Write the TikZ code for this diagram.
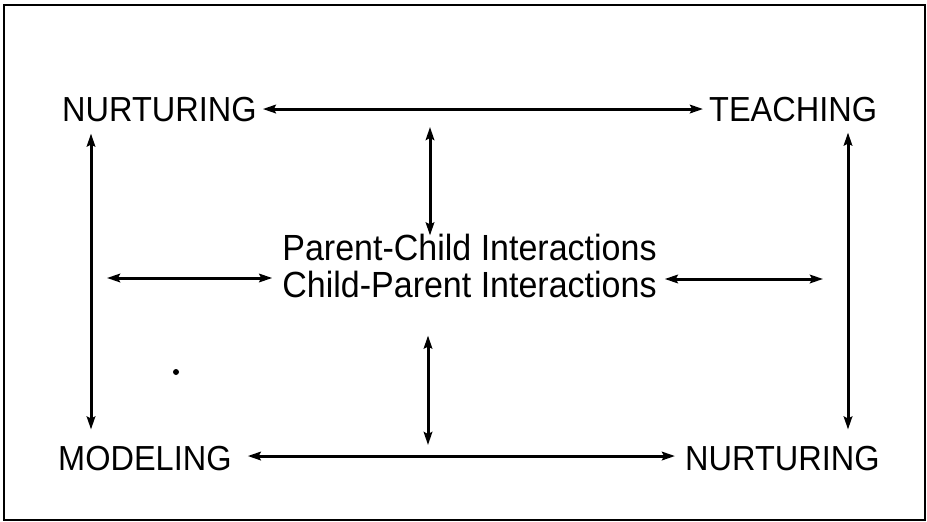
\documentclass[tikz,border=0pt]{standalone}
\usepackage{graphicx}
\usepackage{fontspec}
\setmainfont{Liberation Sans}
\usetikzlibrary{arrows.meta}
\newcommand{\tallt}[1]{\scalebox{1}[1.07]{#1}}
\begin{document}
\begin{tikzpicture}[x=1pt,y=-1pt,
  lbl/.style={inner sep=0pt, anchor=base west, font=\fontsize{32.5}{36}\selectfont},
  ctr/.style={inner sep=0pt, anchor=base, font=\fontsize{34}{37}\selectfont},
  tip/.tip={Stealth[length=13pt,width=8.5pt,inset=2pt]},
  dbl/.style={tip-tip, line width=3pt},
  frame/.style={line width=2.6pt}]
\useasboundingbox (0,0) rectangle (927,522);
\draw[frame] (4,5) rectangle (925,520);
% labels
\node[lbl] (nt) at (62,121) {\tallt{NURTURING}};
\node[lbl] (teach) at (709,121) {\tallt{TEACHING}};
\node[lbl] (mod) at (58,470) {\tallt{MODELING}};
\node[lbl] (nb) at (685,470) {\tallt{NURTURING}};
\node[ctr] (pc) at (469.5,260) {\tallt{Parent-Child Interactions}};
\node[ctr] (cp) at (469.5,297) {\tallt{Child-Parent Interactions}};
% free ends
\coordinate (lm) at (107,278);
\coordinate (rm) at (823,279);
\coordinate (tc) at (430,127);
\coordinate (bc) at (428,445);
% connectors
\draw[dbl] ([xshift=6pt]nt.east) -- ([xshift=-6pt]teach.west);
\draw[dbl] ([xshift=16pt,yshift=2pt]mod.east) -- ([xshift=-10pt,yshift=2pt]nb.west);
\draw[dbl] ([xshift=29pt,yshift=-12pt]nt.south west) -- ([xshift=33pt,yshift=16pt]mod.north west);
\draw[dbl] ([xshift=139pt,yshift=-11pt]teach.south west) -- ([xshift=163pt,yshift=16pt]nb.north west);
\draw[dbl] (lm) -- ([xshift=-10pt,yshift=-18pt]pc.base west);
\draw[dbl] ([xshift=8pt,yshift=-19pt]pc.base east) -- (rm);
\draw[dbl] (tc) -- ([yshift=-2pt]tc |- pc.north);
\draw[dbl] ([yshift=-38pt]bc |- cp.south) -- (bc);
% speck
\fill (176,372) circle (3);
\end{tikzpicture}
\end{document}
